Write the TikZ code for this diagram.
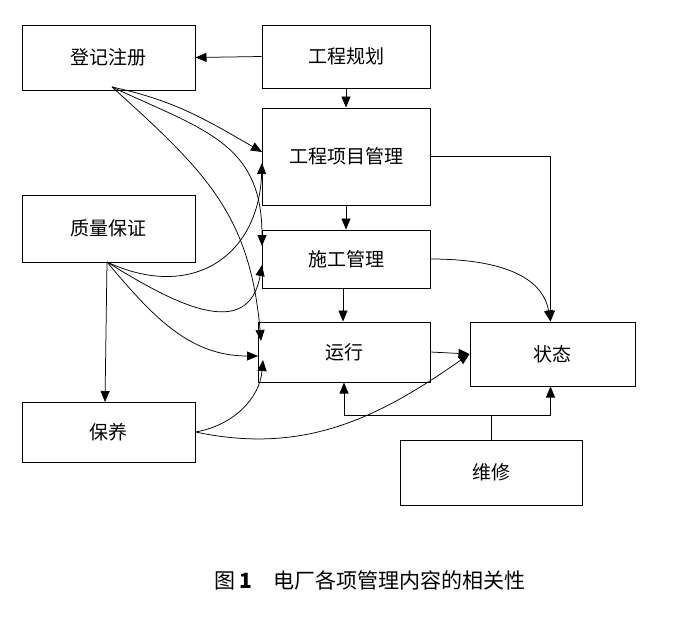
\documentclass[tikz,border=0pt]{standalone}
\usepackage{fontspec}
\setmainfont{Noto Sans CJK SC}
\usetikzlibrary{arrows.meta}
\begin{document}
\begin{tikzpicture}[x=1pt,y=-1pt,
  box/.style={draw,line width=1pt,inner sep=0pt,font=\fontsize{19}{19}\selectfont},
  ar/.style={-{Triangle[length=11pt,width=9pt]},line width=0.75pt},
  ln/.style={line width=0.75pt}]
\useasboundingbox (0,0) rectangle (682,637);
\node[box,minimum width=173pt,minimum height=65pt] (reg) at (108.5,57.5) {登记注册};
\node[box,minimum width=168pt,minimum height=63pt] (plan) at (346,56.5) {工程规划};
\node[box,minimum width=168pt,minimum height=97pt] (proj) at (346,156.5) {工程项目管理};
\node[box,minimum width=173pt,minimum height=67pt] (qa) at (108.5,228.5) {质量保证};
\node[box,minimum width=168pt,minimum height=58pt] (cons) at (346,259) {施工管理};
\node[box,minimum width=172pt,minimum height=60pt] (run) at (344,352) {运行};
\node[box,minimum width=165pt,minimum height=64pt] (state) at (552.5,354) {状态};
\node[box,minimum width=173pt,minimum height=60pt] (main) at (108.5,432) {保养};
\node[box,minimum width=182pt,minimum height=65pt] (rep) at (491,472.5) {维修};
\node[font=\fontsize{21}{21}\selectfont] (cap) at (370,580) {图 \textbf{1}\quad 电厂各项管理内容的相关性};

\coordinate (r0) at (112,87);
\coordinate (q0) at (107,262);
\draw[ar] (plan.west) -- (reg.east);
\draw[ar] (plan.south) -- (proj.north);
\draw[ar] (proj.south) -- (cons.north);
\draw[ar] ([xshift=-3pt]cons.south) -- ([xshift=-1pt]run.north);
\draw[ar] (run.east) -- (state.west);
\draw[ar] (proj.east) -| ([xshift=-2pt]state.north);
\draw[ar] (cons.east) to[out=0,in=100] ([xshift=-2pt]state.north);
\coordinate (rj) at (491,415);
\draw[ln] (rep.north) -- (rj);
\draw[ar] (rj) -| (run.south);
\draw[ar] (rj) -| ([xshift=-2pt]state.south);
\draw[ar] (q0) -- (105,402);
% from 登记注册
\draw[ar] (r0) to[out=-12,in=150] (262,152);
\draw[ar] (r0) to[out=-25,in=90,looseness=1.2] (262,246);
\draw[ar] (r0) to[out=-42,in=95,looseness=1.1] (261,341);
% from 质量保证
\draw[ar] (q0) to[out=-25,in=-92,looseness=1.3] (262,163);
\draw[ar] (q0) to[out=-32,in=-100,looseness=1.3] (262,265);
\draw[ar] (q0) to[out=-50,in=180] (258,356);
% from 保养
\draw[ar] (main.east) to[out=10,in=-95] (263,360);
\draw[ar] (main.east) to[out=-12,in=-145] (state.west);
\end{tikzpicture}
\end{document}
